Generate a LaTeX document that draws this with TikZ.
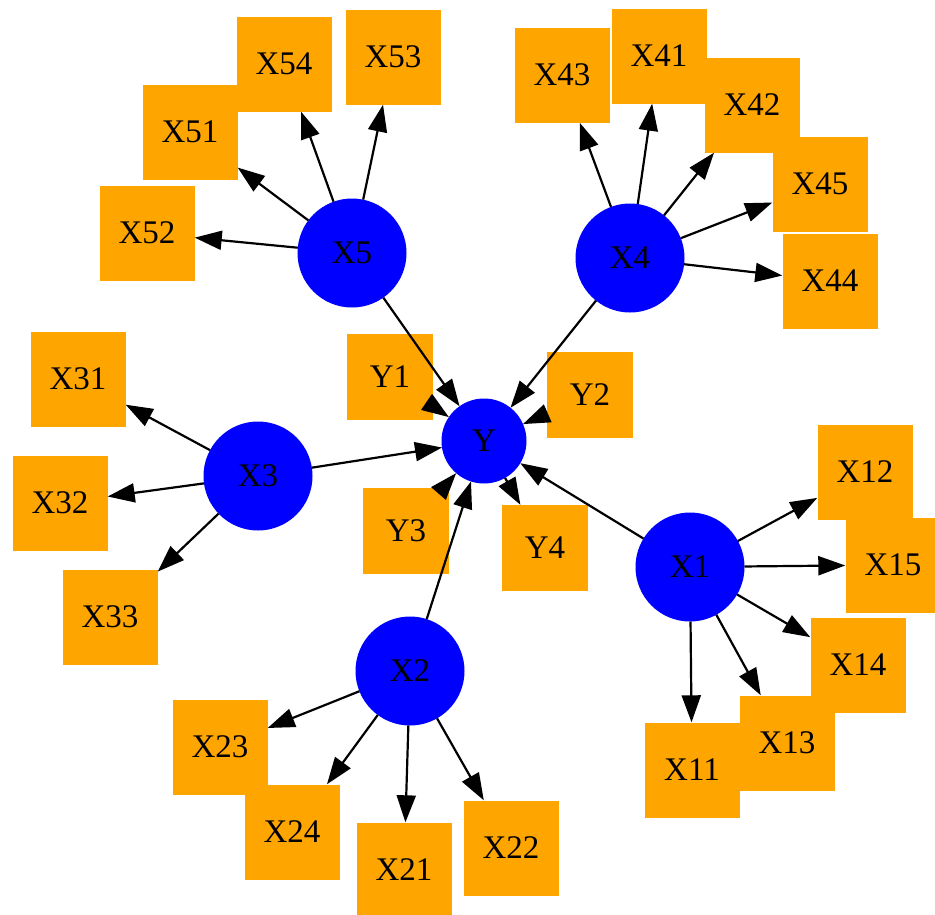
\documentclass[tikz,border=0pt]{standalone}
\usepackage{fontspec}
\setmainfont{Liberation Serif}
\usetikzlibrary{arrows.meta}
\definecolor{boxorange}{RGB}{255,165,0}
\definecolor{hubblue}{RGB}{0,0,255}
\tikzset{
  leaf/.style={rectangle, fill=boxorange, minimum size=95pt, inner sep=0pt,
               font=\fontsize{33}{39}\selectfont},
  yleaf/.style={leaf, minimum size=86pt},
  hub/.style={circle, fill=hubblue, draw=hubblue, line width=1pt, minimum size=108pt,
              inner sep=0pt, font=\fontsize{33}{39}\selectfont},
  yhub/.style={hub, minimum size=84pt},
  link/.style={-{Triangle[length=27pt,width=19pt]}, line width=2.2pt, black}
}
\begin{document}
\begin{tikzpicture}[x=1pt,y=-1pt]
\useasboundingbox (0,0) rectangle (935,914);
% outcome cluster
\node[yleaf] (Y1) at (390,377) {Y1};
\node[yleaf] (Y2) at (590,395) {Y2};
\node[yleaf] (Y3) at (406,531) {Y3};
\node[yleaf] (Y4) at (545,548) {Y4};
% X5 leaves
\node[leaf] (X54) at (284,64) {X54};
\node[leaf] (X53) at (393,57) {X53};
\node[leaf] (X51) at (190,132) {X51};
\node[leaf] (X52) at (147,233) {X52};
% X4 leaves
\node[leaf] (X43) at (562,75) {X43};
\node[leaf] (X41) at (659,56) {X41};
\node[leaf] (X42) at (752,105) {X42};
\node[leaf] (X45) at (820,184) {X45};
\node[leaf] (X44) at (830,281) {X44};
% X3 leaves
\node[leaf] (X31) at (78,379) {X31};
\node[leaf] (X32) at (60,503) {X32};
\node[leaf] (X33) at (110,617) {X33};
% X2 leaves
\node[leaf] (X23) at (220,747) {X23};
\node[leaf] (X24) at (292,832) {X24};
\node[leaf] (X21) at (404,870) {X21};
\node[leaf] (X22) at (511,848) {X22};
% X1 leaves
\node[leaf] (X12) at (865,472) {X12};
\node[leaf] (X15) at (893,565) {X15};
\node[leaf] (X14) at (858,665) {X14};
\node[leaf] (X11) at (692,770) {X11};
\node[leaf] (X13) at (787,743) {X13};
% hubs
\node[yhub] (Y) at (484,441) {Y};
\node[hub] (X5) at (352,253) {X5};
\node[hub] (X4) at (630,258) {X4};
\node[hub] (X3) at (258,476) {X3};
\node[hub] (X2) at (410,671) {X2};
\node[hub] (X1) at (690,567) {X1};
% connectors
\foreach \t in {X52,X51,X54,X53,Y} \draw[link] (X5) -- (\t);
\foreach \t in {X43,X41,X42,X45,X44,Y} \draw[link] (X4) -- (\t);
\foreach \t in {X31,X32,X33,Y} \draw[link] (X3) -- (\t);
\foreach \t in {X23,X24,X21,X22,Y} \draw[link] (X2) -- (\t);
\foreach \t in {X12,X15,X14,X13,X11,Y} \draw[link] (X1) -- (\t);
\draw[link] (Y1) -- (Y);
\draw[link] (Y2) -- (Y);
\draw[link] (Y3) -- (Y);
\draw[link] (Y) -- (Y4);
\end{tikzpicture}
\end{document}
